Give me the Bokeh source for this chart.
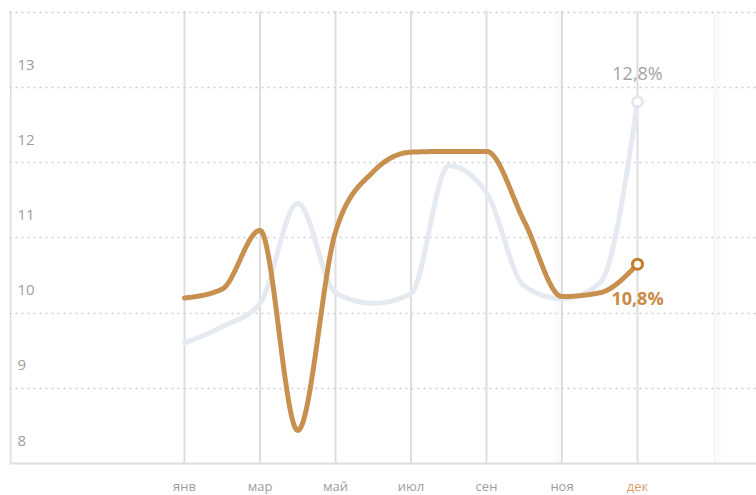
import numpy as np
from bokeh.plotting import figure
from bokeh.models import FixedTicker, Span, Range1d
from bokeh.core.properties import value
from bokeh.embed import file_html
from bokeh.resources import INLINE

# ---- data ----
x_idx = list(range(13))
tick_pos = [0, 2, 4, 6, 8, 10, 12]
tick_labels = ["янв", "мар", "май", "июл", "сен", "ноя", "дек"]
y_tick_vals = [13, 12, 11, 10, 9, 8]
y_grid_vals = [9, 10, 11, 12, 13, 14]
series_current = [10.2, 10.32, 11.1, 8.44, 11.08, 11.88, 12.14, 12.15, 12.15, 11.22, 10.22, 10.27, 10.65]
series_previous = [9.6, 9.82, 10.13, 11.46, 10.27, 10.13, 10.26, 11.96, 11.6, 10.36, 10.19, 10.4, 12.81]
end_labels = ["12,8%", "10,8%"]

FONT = "Open Sans"
ORANGE = "#c8904f"
ORANGE_DARK = "#c27a2b"
GREY_LINE = "#e5eaf1"
LABEL_GREY = "#9e9e9e"
HIGHLIGHT_LABEL = "#d9a06c"
AXIS_GREY = "#dedede"


def monotone_x(xs, ys, samples=60):
    """d3 curveMonotoneX evaluated as Hermite segments."""
    x = np.asarray(xs, float)
    y = np.asarray(ys, float)
    n = len(x)
    h = np.diff(x)
    s = np.diff(y) / h
    t = np.zeros(n)
    for i in range(1, n - 1):
        p = (s[i - 1] * h[i] + s[i] * h[i - 1]) / (h[i - 1] + h[i])
        t[i] = (np.sign(s[i - 1]) + np.sign(s[i])) * min(abs(s[i - 1]), abs(s[i]), 0.5 * abs(p))
    t[0] = (3 * s[0] - t[1]) / 2
    t[-1] = (3 * s[-1] - t[-2]) / 2
    out_x, out_y = [], []
    for i in range(n - 1):
        u = np.linspace(0, 1, samples, endpoint=(i == n - 2))
        h00 = 2 * u**3 - 3 * u**2 + 1
        h10 = u**3 - 2 * u**2 + u
        h01 = -2 * u**3 + 3 * u**2
        h11 = u**3 - u**2
        out_x.extend(x[i] + u * h[i])
        out_y.extend(h00 * y[i] + h10 * h[i] * t[i] + h01 * y[i + 1] + h11 * h[i] * t[i + 1])
    return out_x, out_y


W, H = 756, 495
BORDER_L, BORDER_T = 9, 10
FRAME_W, FRAME_H = W - BORDER_L, H - BORDER_T
PX_X = 37.75          # pixels per x step
PX_Y = 75.2           # pixels per y unit
x_start = -175.0 / PX_X
x_end = x_start + FRAME_W / PX_X
y_base = min(y_tick_vals)                 # axis baseline value
y_start = y_base - 32.0 / PX_Y
y_end = y_start + FRAME_H / PX_Y
xpx, ypx = 1.0 / PX_X, 1.0 / PX_Y
axis_x = x_start + xpx                    # left axis line, 1px inside the frame

p = figure(width=W, height=H, output_backend="svg", toolbar_location=None,
           x_range=Range1d(x_start, x_end), y_range=Range1d(y_start, y_end),
           min_border_left=BORDER_L, min_border_right=0, min_border_top=BORDER_T,
           min_border_bottom=0, x_axis_location=None, y_axis_location=None)
p.outline_line_color = None
p.background_fill_color = "white"
p.border_fill_color = "white"
p.xgrid.visible = False

# ---- highlight band with soft shadow ----
band_l, band_r = tick_pos[-1] - 2, tick_pos[-1] + 2
band_top = y_end - ypx * 1.0
for k in range(8, 0, -1):
    p.quad(left=[band_l - k * xpx * 1.2], right=[band_r + k * xpx * 1.2],
           bottom=[y_base], top=[band_top + k * ypx * 1.0],
           fill_color="black", fill_alpha=0.004, line_color=None, level="image")
p.quad(left=[band_l], right=[band_r], bottom=[y_base], top=[band_top],
       fill_color="white", line_color=None, level="image")

# ---- grids ----
p.ygrid.ticker = FixedTicker(ticks=y_grid_vals)
p.ygrid.grid_line_color = "#cfcfcf"
p.ygrid.grid_line_width = 1.5
p.ygrid.grid_line_dash = "2 4"

p.segment(x0=tick_pos, y0=[y_base] * len(tick_pos), x1=tick_pos, y1=[y_end] * len(tick_pos),
          line_color=AXIS_GREY, line_width=2, level="underlay")
p.segment(x0=[axis_x], y0=[y_base], x1=[axis_x], y1=[y_end],
          line_color=AXIS_GREY, line_width=2, level="underlay")
p.add_layout(Span(location=y_base, dimension="width", line_color=AXIS_GREY, line_width=2))

# ---- x labels ----
label_colors = [LABEL_GREY] * (len(tick_labels) - 1) + [HIGHLIGHT_LABEL]
p.text(x=tick_pos, y=[y_base] * len(tick_pos), text=tick_labels, text_color=label_colors,
       y_offset=22, text_font=value(FONT), text_font_size="13px",
       text_align="center", text_baseline="alphabetic")

# ---- y labels inside the plot ----
p.text(x=[axis_x] * len(y_tick_vals), y=y_tick_vals, text=[str(v) for v in y_tick_vals],
       x_offset=7, y_offset=-23, text_font=value(FONT), text_font_size="15px",
       text_color=LABEL_GREY, text_baseline="alphabetic", text_align="left")

# ---- lines ----
gx, gy = monotone_x(x_idx, series_previous)
p.line(gx, gy, line_color=GREY_LINE, line_width=5, line_cap="round", line_join="round")
ox, oy = monotone_x(x_idx, series_current)
p.line(ox, oy, line_color=ORANGE, line_width=5, line_cap="round", line_join="round")

p.scatter(x=[x_idx[-1]], y=[series_previous[-1]], size=10, marker="circle",
          fill_color="white", line_color="#e3e8ef", line_width=3)
p.scatter(x=[x_idx[-1]], y=[series_current[-1]], size=10, marker="circle",
          fill_color="white", line_color=ORANGE_DARK, line_width=3)

p.text(x=[x_idx[-1]], y=[series_previous[-1]], text=[end_labels[0]], y_offset=-29,
       text_font=value(FONT), text_font_size="18px", text_color="#a3a3a3",
       text_align="center", text_baseline="alphabetic")
p.text(x=[x_idx[-1]], y=[series_current[-1]], text=[end_labels[1]], y_offset=34,
       text_font=value(FONT), text_font_size="18px", text_font_style="bold",
       text_color="#c98a45", text_align="center", text_baseline="alphabetic")

open("out.html", "w").write(file_html(p, INLINE))
